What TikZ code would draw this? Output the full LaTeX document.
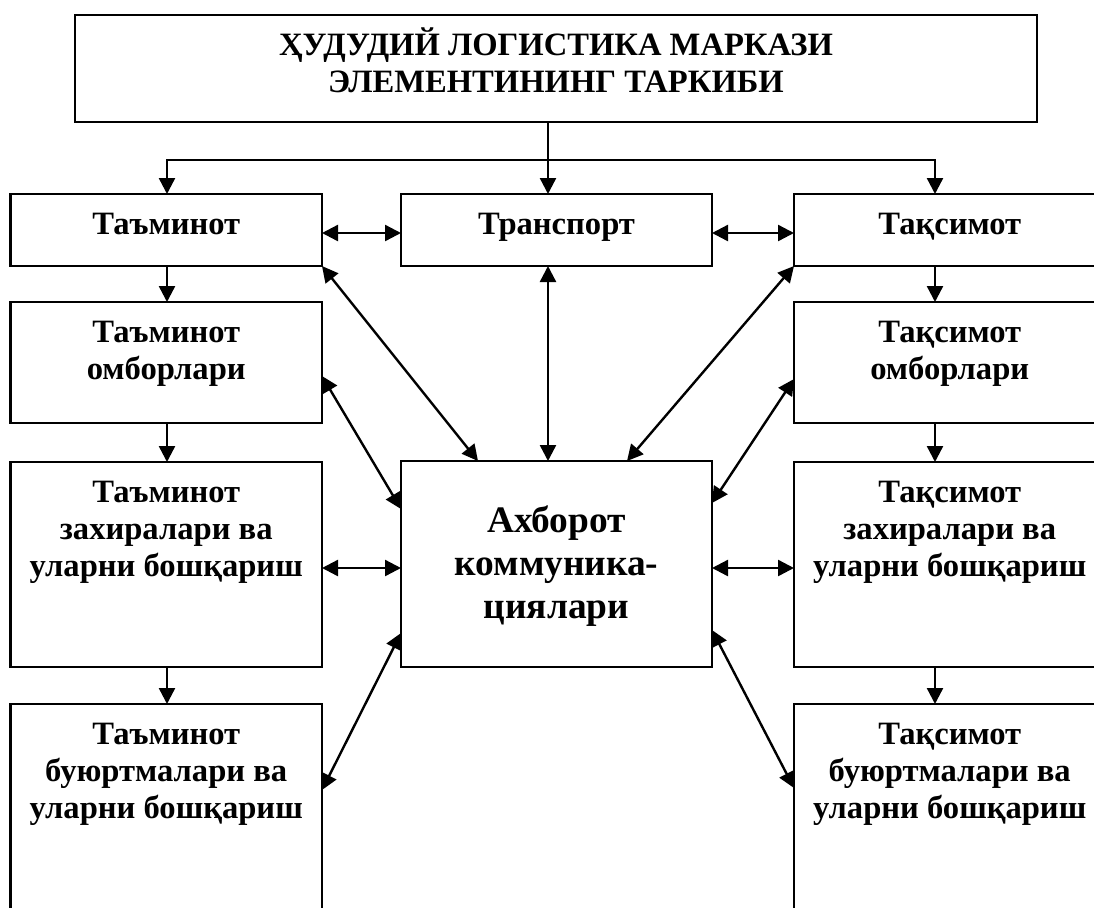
\documentclass[tikz,border=0pt]{standalone}
\usepackage{fontspec}
\setmainfont{Liberation Serif}
\usetikzlibrary{arrows.meta}
\newcommand\boxtext[3]{\parbox[c][#2][t]{#1}{\centering\bfseries\fontsize{16.3}{18.5}\selectfont\rule{0pt}{20pt}#3}}
\newcommand\bigboxtext[3]{\parbox[c][#2][t]{#1}{\centering\bfseries\fontsize{18.7}{21.5}\selectfont\rule{0pt}{35.5pt}#3}}
\tikzset{
  box/.style={draw, line width=1.1pt, inner sep=0pt, outer sep=0pt, fill=white},
  link/.style={line width=1.2pt},
  one/.style={link, -{Triangle[length=8pt,width=8pt]}},
  two/.style={link, {Triangle[length=8pt,width=8pt]}-{Triangle[length=8pt,width=8pt]}},
}
\begin{document}
\begin{tikzpicture}[x=0.5pt,y=-0.5pt]
\useasboundingbox (0,0) rectangle (1094,907);
\fill[white] (0,0) rectangle (1094,907);
\clip (0,0) rectangle (1094,907);
% boxes
\node[box] (title) at (556,68.5) {\boxtext{481pt}{53.5pt}{ҲУДУДИЙ ЛОГИСТИКА МАРКАЗИ\\ЭЛЕМЕНТИНИНГ ТАРКИБИ}};
\node[box] (taminot) at (166.25,230) {\boxtext{155.75pt}{36pt}{Таъминот}};
\node[box] (transport) at (556.5,230) {\boxtext{155.5pt}{36pt}{Транспорт}};
\node[box] (taqsimot) at (949.75,230) {\boxtext{155.75pt}{36pt}{Тақсимот}};
\node[box] (tom) at (166.25,362.5) {\boxtext{155.75pt}{60.5pt}{Таъминот\\омборлари}};
\node[box] (qom) at (949.75,362.5) {\boxtext{155.75pt}{60.5pt}{Тақсимот\\омборлари}};
\node[box] (tz) at (166.25,564.5) {\boxtext{155.75pt}{102.5pt}{Таъминот\\захиралари ва\\уларни бошқариш}};
\node[box] (axb) at (556.5,564) {\bigboxtext{155.5pt}{103pt}{Ахборот\\коммуника-\\циялари}};
\node[box] (qz) at (949.75,564.5) {\boxtext{155.75pt}{102.5pt}{Тақсимот\\захиралари ва\\уларни бошқариш}};
\node[box] (tb) at (166.25,832) {\boxtext{155.75pt}{128pt}{Таъминот\\буюртмалари ва\\уларни бошқариш}};
\node[box] (qb) at (949.75,832) {\boxtext{155.75pt}{128pt}{Тақсимот\\буюртмалари ва\\уларни бошқариш}};
% helper coordinates
\coordinate (hub) at (548,160);
\coordinate (lx) at (167,0);
\coordinate (rx) at (935,0);
% top distribution
\draw[link] (title.south -| hub) -- (hub);
\draw[one] (hub) -- (hub |- transport.north);
\draw[one] (hub) -| (lx |- taminot.north);
\draw[one] (hub) -| (rx |- taqsimot.north);
% vertical chains
\draw[one] (lx |- taminot.south) -- (lx |- tom.north);
\draw[one] (lx |- tom.south) -- (lx |- tz.north);
\draw[one] (lx |- tz.south) -- (lx |- tb.north);
\draw[one] (rx |- taqsimot.south) -- (rx |- qom.north);
\draw[one] (rx |- qom.south) -- (rx |- qz.north);
\draw[one] (rx |- qz.south) -- (rx |- qb.north);
% top row links
\draw[two] (taminot.east |- 0,233) -- (transport.west |- 0,233);
\draw[two] (transport.east |- 0,233) -- (taqsimot.west |- 0,233);
\draw[two] (hub |- transport.south) -- (hub |- axb.north);
% diagonals to information box
\draw[two] (taminot.south east) -- (478,0 |- axb.north);
\draw[two] (taqsimot.south west) -- (627,0 |- axb.north);
\draw[two] (tom.east |- 0,376) -- (axb.west |- 0,509);
\draw[two] (qom.west |- 0,379) -- (axb.east |- 0,503);
\draw[two] (tz.east |- 0,568) -- (axb.west |- 0,568);
\draw[two] (axb.east |- 0,568) -- (qz.west |- 0,568);
\draw[two] (axb.west |- 0,633) -- (tb.east |- 0,790);
\draw[two] (axb.east |- 0,630) -- (qb.west |- 0,788);
\end{tikzpicture}
\end{document}
